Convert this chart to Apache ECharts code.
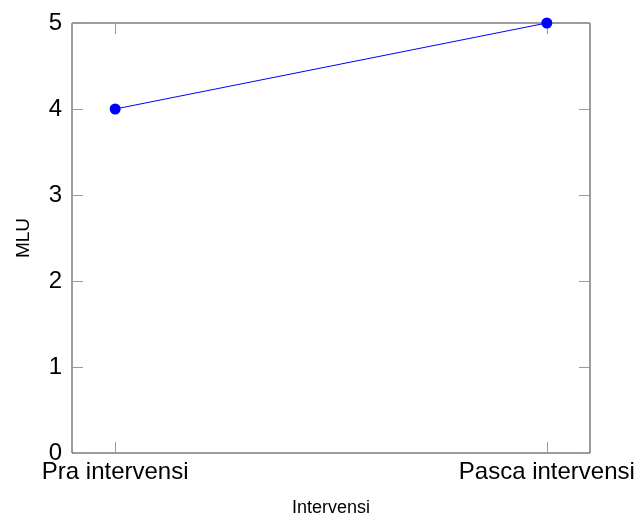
<!DOCTYPE html>
<html>
<head>
<meta charset="utf-8">
<script src="https://cdn.jsdelivr.net/npm/echarts@6/dist/echarts.min.js"></script>
<style>
  html, body { margin: 0; padding: 0; background: #ffffff; }
  #chart { width: 640px; height: 516px; }
</style>
</head>
<body>
<div id="chart"></div>
<script>
// data
const categories = ['Pra intervensi', 'Pasca intervensi'];
const mluValues = [4, 5];
const yTicks = [0, 1, 2, 3, 4, 5];

const fontFamily = 'Liberation Sans, Arial, Helvetica, sans-serif';
const boxColor = '#3a3a3a';
const tickColor = '#9a9a9a';
const catIdx = categories.map((c, i) => i);

const chartDom = document.getElementById('chart');
const chart = echarts.init(chartDom);

// ticks point inwards on all four sides, like the pgfplots box
const innerTick = (extra) => Object.assign({
  show: true,
  inside: true,
  length: 11,
  lineStyle: { color: tickColor },
}, extra || {});

const option = {
  backgroundColor: '#ffffff',
  animation: false,
  grid: {
    left: 72,
    right: 50,
    top: 23,
    bottom: 63,
    outerBoundsMode: 'none',
    show: true,
    borderColor: boxColor,
    borderWidth: 1,
  },
  xAxis: [
    {
      type: 'value',
      min: -0.1,
      max: 1.1,
      position: 'bottom',
      name: 'Intervensi',
      nameLocation: 'middle',
      nameGap: 46,
      nameTextStyle: { color: '#000', fontSize: 18, fontFamily: fontFamily },
      axisLine: { show: false, onZero: false },
      axisTick: innerTick({ customValues: catIdx }),
      axisLabel: {
        show: true,
        customValues: catIdx,
        margin: 7,
        color: '#000',
        fontSize: 24,
        fontFamily: fontFamily,
        formatter: (v) => categories[Math.round(v)] || '',
      },
      splitLine: { show: false },
    },
    {
      type: 'value',
      min: -0.1,
      max: 1.1,
      position: 'top',
      axisLine: { show: false, onZero: false },
      axisTick: innerTick({ customValues: catIdx }),
      axisLabel: { show: false },
      splitLine: { show: false },
    },
  ],
  yAxis: [
    {
      type: 'value',
      min: 0,
      max: 5,
      interval: 1,
      position: 'left',
      name: 'MLU',
      nameLocation: 'middle',
      nameGap: 39,
      nameTextStyle: { color: '#000', fontSize: 19, fontFamily: fontFamily },
      axisLine: { show: false, onZero: false },
      axisTick: innerTick(),
      axisLabel: {
        margin: 10,
        color: '#000',
        fontSize: 24,
        fontFamily: fontFamily,
        formatter: (v) => (yTicks.includes(v) ? String(v) : ''),
      },
      splitLine: { show: false },
    },
    {
      type: 'value',
      min: 0,
      max: 5,
      interval: 1,
      position: 'right',
      axisLine: { show: false, onZero: false },
      axisTick: innerTick(),
      axisLabel: { show: false },
      splitLine: { show: false },
    },
  ],
  series: [
    {
      type: 'line',
      xAxisIndex: 0,
      yAxisIndex: 0,
      data: categories.map((c, i) => [i, mluValues[i]]),
      symbol: 'circle',
      symbolSize: 11,
      lineStyle: { color: '#0000ff', width: 1 },
      itemStyle: { color: '#0000ff' },
      clip: false,
    },
  ],
};

chart.setOption(option);
</script>
</body>
</html>
